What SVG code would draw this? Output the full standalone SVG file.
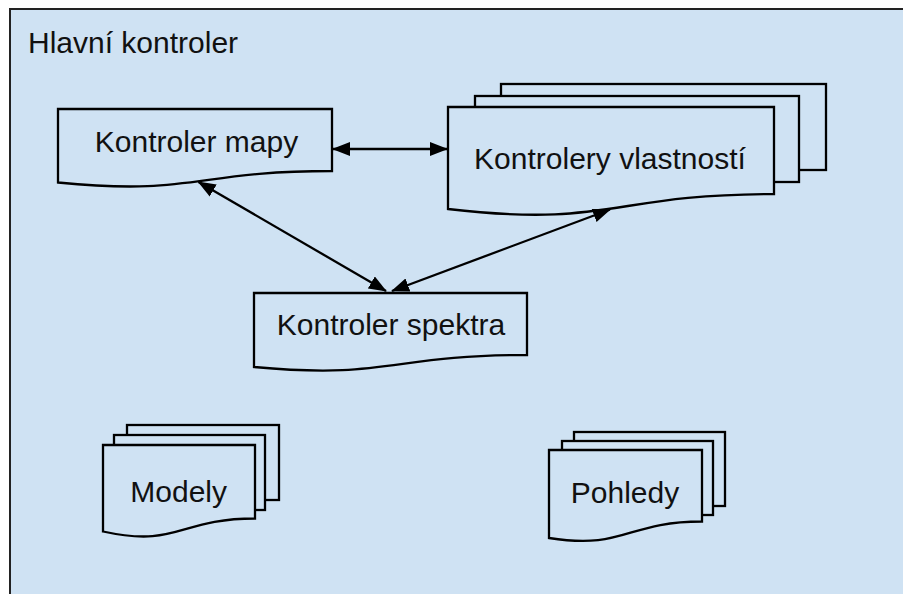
<svg xmlns="http://www.w3.org/2000/svg" width="903" height="594" viewBox="0 0 903 594">
  <style>
    .shape { fill: #cfe2f3; stroke: #000; stroke-width: 2.3; stroke-linejoin: miter; }
    .label { font-family: "Liberation Sans", Arial, sans-serif; font-size: 30px; fill: #111; text-anchor: middle; }
    .conn { stroke: #000; stroke-width: 2.3; fill: none; marker-start: url(#arrow); marker-end: url(#arrow); }
  </style>
  <defs>
    <marker id="arrow" markerUnits="userSpaceOnUse" markerWidth="18" markerHeight="14" refX="17" refY="7" orient="auto-start-reverse">
      <path d="M0,0 L18,7 L0,14 Z" fill="#000"/>
    </marker>
  </defs>
  <rect width="903" height="594" fill="#ffffff"/>
  <g id="hlavni-kontroler">
    <rect x="10" y="9" width="1000" height="1000" fill="#cfe2f3" stroke="#222" stroke-width="2"/>
    <text x="28" y="53" class="label" style="text-anchor:start">Hlavní kontroler</text>
  </g>
  <g id="kontroler-mapy">
    <path class="shape" d="M58,109 H332 V171 C195,171 195,196 58,182.5 Z"/>
    <text x="196.5" y="152" class="label">Kontroler mapy</text>
  </g>
  <g id="kontrolery-vlastnosti">
    <rect class="shape" x="501" y="84" width="325" height="86"/>
    <rect class="shape" x="475" y="96" width="324" height="86"/>
    <path class="shape" d="M448,107 H774 V194 C611,194 611,228 448,209 Z"/>
    <text x="610" y="169" class="label">Kontrolery vlastností</text>
  </g>
  <g id="kontroler-spektra">
    <path class="shape" d="M254,293 H527 V355 C390,355 390,379.5 254,367 Z"/>
    <text x="391" y="335" class="label">Kontroler spektra</text>
  </g>
  <g id="modely">
    <rect class="shape" x="127" y="425" width="152" height="75"/>
    <rect class="shape" x="114" y="435" width="151" height="75"/>
    <path class="shape" d="M103,445 H255 V518.5 C178.5,518.5 178.5,548 103,531.5 Z"/>
    <text x="178.7" y="502" class="label">Modely</text>
  </g>
  <g id="pohledy">
    <rect class="shape" x="574" y="432" width="151" height="74"/>
    <rect class="shape" x="562" y="441" width="151" height="74"/>
    <path class="shape" d="M549,450 H702 V521.5 C625.5,521.5 625.5,550 549,538 Z"/>
    <text x="625" y="503" class="label">Pohledy</text>
  </g>
  <g id="connectors">
    <line class="conn" x1="333" y1="149" x2="447" y2="149"/>
    <line class="conn" x1="198.5" y1="182" x2="386" y2="291"/>
    <line class="conn" x1="392" y1="291" x2="610" y2="209.5"/>
  </g>
</svg>
